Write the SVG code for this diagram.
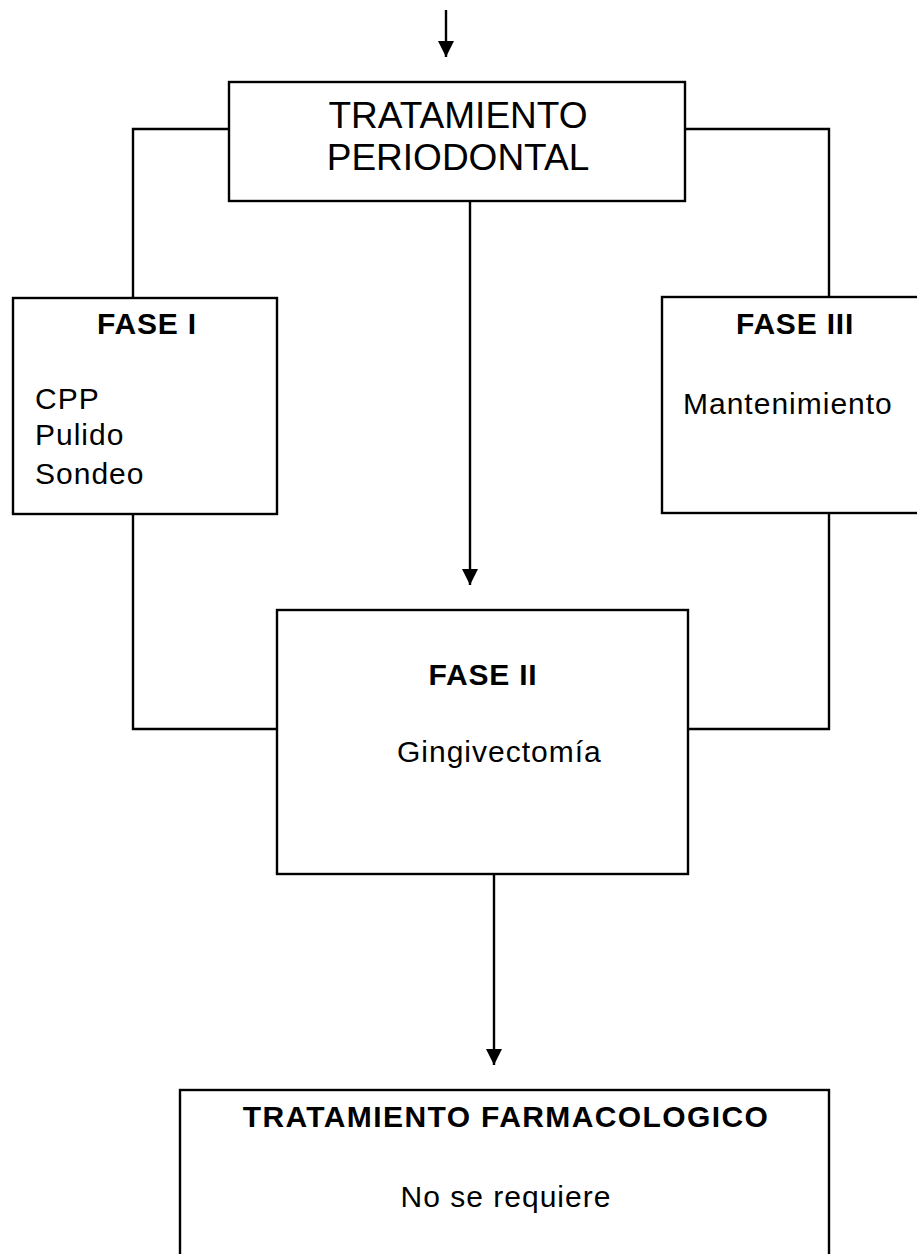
<svg xmlns="http://www.w3.org/2000/svg" width="917" height="1254" viewBox="0 0 917 1254">
<style>
.box{fill:#fff;stroke:#000;stroke-width:2.4}
.ln{fill:none;stroke:#000;stroke-width:2.4}
.t{font-family:"Liberation Sans",Arial,sans-serif;fill:#000}
.n{font-size:30px;letter-spacing:1px}
.b{font-size:30px;font-weight:bold;letter-spacing:0.8px}
.h{font-size:37px}
.c{text-anchor:middle}
</style>
<defs>
<marker id="ah" markerUnits="userSpaceOnUse" markerWidth="16" markerHeight="16" refX="16" refY="8" orient="auto">
<path d="M0,0 L16,8 L0,16 z" fill="#000"/>
</marker>
</defs>
<rect width="917" height="1254" fill="#fff"/>
<g id="connectors">
<line class="ln" x1="446" y1="10" x2="446" y2="57" marker-end="url(#ah)"/>
<line class="ln" x1="470" y1="201" x2="470" y2="585" marker-end="url(#ah)"/>
<line class="ln" x1="494" y1="874" x2="494" y2="1065" marker-end="url(#ah)"/>
<polyline class="ln" points="229,129 133,129 133,298"/>
<polyline class="ln" points="685,129 829,129 829,297"/>
<polyline class="ln" points="133,514 133,729 277,729"/>
<polyline class="ln" points="829,513 829,729 688,729"/>
</g>
<g id="tratamiento-periodontal">
<rect class="box" x="229" y="82" width="456" height="119"/>
<text class="t h c" x="458" y="128">TRATAMIENTO</text>
<text class="t h c" x="458" y="170">PERIODONTAL</text>
</g>
<g id="fase-1">
<rect class="box" x="13" y="298" width="264" height="216"/>
<text class="t b c" x="147" y="334">FASE I</text>
<text class="t n" x="35" y="409">CPP</text>
<text class="t n" x="35" y="445">Pulido</text>
<text class="t n" x="35" y="484">Sondeo</text>
</g>
<g id="fase-3">
<rect class="box" x="662" y="297" width="280" height="216"/>
<text class="t b c" x="795" y="334">FASE III</text>
<text class="t n" x="683" y="414">Mantenimiento</text>
</g>
<g id="fase-2">
<rect class="box" x="277" y="610" width="411" height="264"/>
<text class="t b c" x="483" y="685">FASE II</text>
<text class="t n" x="397" y="762">Gingivectomía</text>
</g>
<g id="tratamiento-farmacologico">
<rect class="box" x="180" y="1090" width="649" height="200"/>
<text class="t b c" x="506" y="1127" style="letter-spacing:1.4px">TRATAMIENTO FARMACOLOGICO</text>
<text class="t n c" x="506" y="1207">No se requiere</text>
</g>
</svg>
